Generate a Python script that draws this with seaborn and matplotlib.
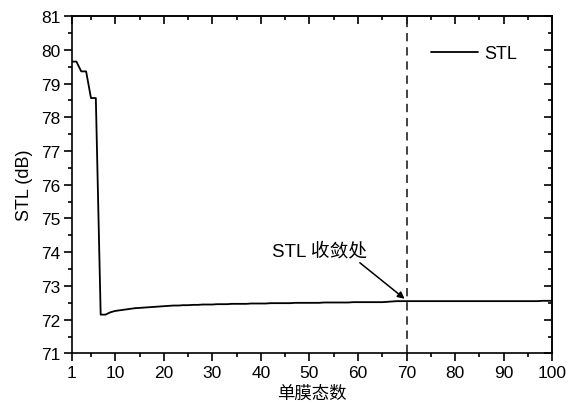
import matplotlib
matplotlib.use("Agg")
import matplotlib.pyplot as plt
import seaborn as sns
import pandas as pd
import numpy as np
from matplotlib.ticker import MultipleLocator, FixedLocator

sns.set_theme(style="ticks")
plt.rcParams['font.family'] = ['Liberation Sans', 'Noto Sans CJK SC', 'DejaVu Sans']
plt.rcParams['text.color'] = 'black'
plt.rcParams['axes.labelcolor'] = 'black'
plt.rcParams['xtick.color'] = 'black'
plt.rcParams['ytick.color'] = 'black'

modes = list(range(1, 101))
stl = [79.65, 79.65, 79.36, 79.36, 78.57, 78.57, 72.15, 72.15, 72.22, 72.26,
       72.28, 72.30, 72.32, 72.34, 72.35, 72.36, 72.37, 72.38, 72.39, 72.40,
       72.41, 72.42, 72.42, 72.43, 72.43, 72.44, 72.44, 72.45, 72.45, 72.45,
       72.46, 72.46, 72.46, 72.47, 72.47, 72.47, 72.47, 72.48, 72.48, 72.48,
       72.48, 72.49, 72.49, 72.49, 72.49, 72.49, 72.50, 72.50, 72.50, 72.50,
       72.50, 72.50, 72.51, 72.51, 72.51, 72.51, 72.51, 72.51, 72.52, 72.52,
       72.52, 72.52, 72.52, 72.52, 72.52, 72.53, 72.54, 72.55, 72.55, 72.55,
       72.55, 72.55, 72.55, 72.55, 72.55, 72.55, 72.55, 72.55, 72.55, 72.55,
       72.55, 72.55, 72.55, 72.55, 72.55, 72.55, 72.55, 72.55, 72.55, 72.55,
       72.55, 72.55, 72.55, 72.55, 72.55, 72.55, 72.55, 72.56, 72.56, 72.56]
x_ticks = [1, 10, 20, 30, 40, 50, 60, 70, 80, 90, 100]
x_minor = [5, 15, 25, 35, 45, 55, 65, 75, 85, 95]
y_ticks = list(range(71, 82))
conv_mode = 70
series_name = "STL"
xlabel = "单膜态数"
ylabel = "STL (dB)"
annot_text = "STL 收敛处"

df = pd.DataFrame({"mode": modes, "STL": stl, "series": series_name})

fig = plt.figure(figsize=(5.77, 4.06), dpi=100)
ax = fig.add_axes([0.124, 0.127, 0.833, 0.831])
sns.lineplot(data=df, x="mode", y="STL", hue="series", palette=["black"],
             linewidth=1.3, ax=ax)
ax.axvline(conv_mode, color="#222222", linestyle=(0, (5, 3.5)), linewidth=1.2)

ax.set_xlim(1, 100)
ax.set_ylim(71, 81)
ax.xaxis.set_major_locator(FixedLocator(x_ticks))
ax.xaxis.set_minor_locator(FixedLocator(x_minor))
ax.yaxis.set_major_locator(FixedLocator(y_ticks))
ax.yaxis.set_minor_locator(MultipleLocator(0.5))
ax.tick_params(axis="both", which="major", direction="out", length=6, width=1.2,
               labelsize=12.5, colors="black", pad=2)
ax.tick_params(axis="both", which="minor", direction="out", length=2.8, width=1.2)

# top/right ticks inward via secondary axes
axt = ax.secondary_xaxis("top")
axt.xaxis.set_major_locator(FixedLocator(x_ticks))
axt.xaxis.set_minor_locator(FixedLocator(x_minor))
axt.tick_params(which="major", direction="in", length=6, width=1.2, labeltop=False)
axt.tick_params(which="minor", direction="in", length=2.8, width=1.2)
axr = ax.secondary_yaxis("right")
axr.yaxis.set_major_locator(FixedLocator(y_ticks))
axr.yaxis.set_minor_locator(MultipleLocator(0.5))
axr.tick_params(which="major", direction="in", length=6, width=1.2, labelright=False)
axr.tick_params(which="minor", direction="in", length=2.8, width=1.2)

for s in ax.spines.values():
    s.set_linewidth(1.2)
    s.set_color("black")

ax.set_xlabel(xlabel, fontsize=12.5, labelpad=3.5)
ax.set_ylabel(ylabel, fontsize=13, labelpad=6)

ax.annotate(annot_text, xy=(69.6, 72.62), xytext=(42.3, 74.05),
            fontsize=13.5, va="center", ha="left",
            arrowprops=dict(arrowstyle="-|>", color="black", lw=1.1,
                            shrinkA=0, shrinkB=0, mutation_scale=10,
                            relpos=(0.88, 0.0)))

leg = ax.legend(loc="upper right", frameon=False, fontsize=13,
                bbox_to_anchor=(0.96, 0.962), handlelength=2.6,
                handletextpad=0.3)
leg.set_title(None)

fig.savefig("out.png", dpi=100)
